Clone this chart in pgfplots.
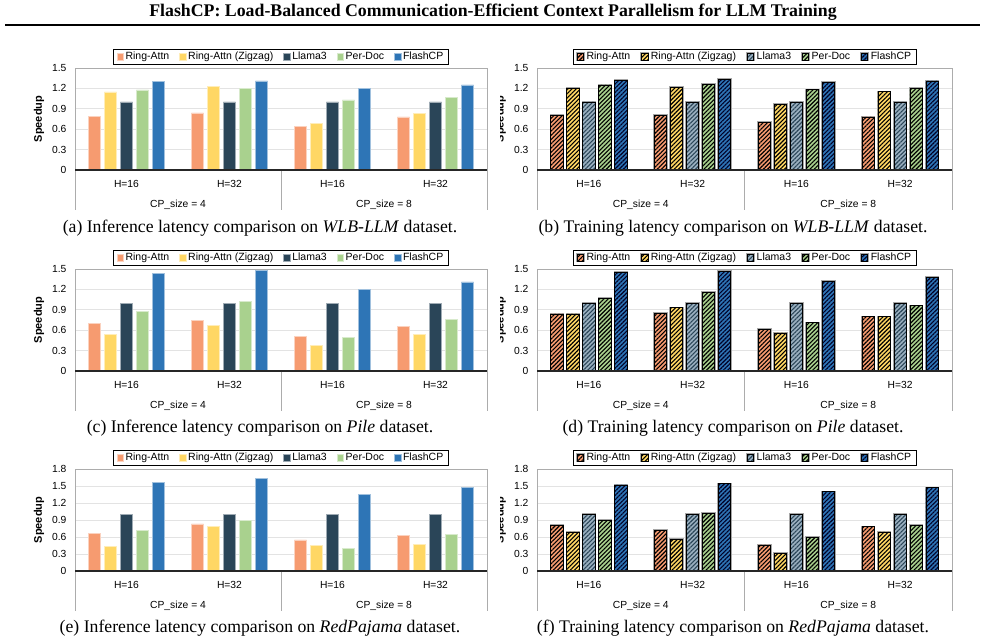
\documentclass[border=0pt]{standalone}
\usepackage{fontspec}
\setmainfont{Liberation Serif}
\newfontfamily\arial{Liberation Sans}
\usepackage{pgfplots}
\pgfplotsset{compat=1.18}
\usepackage{pgfplotstable}
\usetikzlibrary{patterns.meta}

\definecolor{cRing}{RGB}{246,155,112}
\definecolor{cZig}{RGB}{255,215,100}
\definecolor{cLlama}{RGB}{42,69,88}
\definecolor{cLlamaT}{RGB}{155,176,192}
\definecolor{cDoc}{RGB}{169,209,142}
\definecolor{cFlash}{RGB}{46,117,182}

% columns: group, Ring-Attn, Ring-Attn (Zigzag), Llama3, Per-Doc, FlashCP
\pgfplotstableread{
g ring zig llama doc flash
0 0.79 1.15 1.00 1.18 1.30
1 0.84 1.23 1.00 1.20 1.31
2 0.64 0.69 1.00 1.03 1.20
3 0.78 0.83 1.00 1.07 1.25
}\infWLB
\pgfplotstableread{
g ring zig llama doc flash
0 0.80 1.20 1.00 1.25 1.32
1 0.80 1.22 1.00 1.26 1.33
2 0.70 0.97 1.00 1.18 1.29
3 0.78 1.15 1.00 1.20 1.31
}\trnWLB
\pgfplotstableread{
g ring zig llama doc flash
0 0.70 0.54 1.00 0.88 1.44
1 0.74 0.67 1.00 1.02 1.48
2 0.51 0.38 1.00 0.50 1.20
3 0.66 0.54 1.00 0.76 1.31
}\infPile
\pgfplotstableread{
g ring zig llama doc flash
0 0.84 0.84 1.00 1.07 1.45
1 0.85 0.93 1.00 1.16 1.47
2 0.61 0.56 1.00 0.71 1.32
3 0.80 0.80 1.00 0.96 1.38
}\trnPile
\pgfplotstableread{
g ring zig llama doc flash
0 0.66 0.43 1.00 0.72 1.57
1 0.83 0.79 1.00 0.90 1.64
2 0.55 0.45 1.00 0.40 1.35
3 0.63 0.47 1.00 0.65 1.48
}\infRP
\pgfplotstableread{
g ring zig llama doc flash
0 0.81 0.69 1.00 0.90 1.52
1 0.72 0.56 1.00 1.02 1.54
2 0.46 0.31 1.00 0.59 1.40
3 0.78 0.69 1.00 0.81 1.47
}\trnRP

\pgfplotsset{
  panel/.style={
    scale only axis, height=102pt,
    ybar=3.7pt, bar width=12.3pt,
    xmin=-0.5, xmax=3.5, ymin=0,
    axis line style={gray!65, line width=0.6pt},
    ymajorgrids, grid style={gray!22, line width=0.8pt},
    ytick style={draw=none}, xtick style={draw=none},
    /pgf/number format/assume math mode=true,
    /pgf/number format/fixed, /pgf/number format/precision=1,
    tick label style={font=\arial\fontsize{10.3}{12}\selectfont},
    yticklabel style={xshift=-5pt},
    xtick={0,1,2,3}, xticklabels={H=16,H=32,H=16,H=32},
    xticklabel style={yshift=-3pt},
    extra x ticks={0.5,2.5},
    extra x tick labels={CP\_size = 4, CP\_size = 8},
    extra x tick style={xtick style={draw=none}, xticklabel style={yshift=-19pt}},
    ylabel={Speedup},
    every axis y label/.style={at={(axis description cs:-0.0874,0.5)},
      rotate=90, anchor=center, font=\arial\bfseries\fontsize{11}{13}\selectfont},
    clip=false,
    legend columns=5,
    legend style={at={(axis description cs:0.5,1)}, anchor=south, yshift=3.5pt,
      draw=black, line width=0.6pt, inner xsep=3pt, inner ysep=1pt,
      font=\arial\fontsize{10.5}{12}\selectfont,
      /tikz/every even column/.append style={column sep=8pt},
      nodes={inner xsep=2pt, inner ysep=2pt}},
    legend image code/.code={\path[##1, line width=0.5pt] (0pt,-3.2pt) rectangle (6.4pt,3.2pt);},
  },
  r15/.style={ymax=1.5, ytick={0,0.3,0.6,0.9,1.2,1.5}},
  r18/.style={ymax=1.8, ytick={0,0.3,0.6,0.9,1.2,1.5,1.8}},
  inf/.style={draw=white!55!#1, line width=0.5pt, fill=#1},
  trn/.style 2 args={fill=#1, draw=black, line width=0.7pt,
    preaction={draw=gray!70, line width=2.2pt},
    postaction={pattern={Lines[angle=45,distance=3pt,line width=1.1pt]}, pattern color=#2}},
}

% group separators below the plot area and the heavy zero line
\newcommand{\categoryframe}{%
  \draw[gray!65, line width=0.6pt] (axis cs:-0.5,0) -- ([yshift=-40pt]axis cs:-0.5,0);
  \draw[gray!65, line width=0.6pt] (axis cs:1.5,0) -- ([yshift=-40pt]axis cs:1.5,0);
  \draw[gray!65, line width=0.6pt] (axis cs:3.5,0) -- ([yshift=-40pt]axis cs:3.5,0);
  \draw[black!85, line width=1.3pt] (axis cs:-0.5,0) -- (axis cs:3.5,0);
}
\newcommand{\infbars}[1]{%
  \addplot[inf=cRing]   table[x=g,y=ring]{#1};
  \addplot[inf=cZig]    table[x=g,y=zig]{#1};
  \addplot[inf=cLlama]  table[x=g,y=llama]{#1};
  \addplot[inf=cDoc]    table[x=g,y=doc]{#1};
  \addplot[inf=cFlash]  table[x=g,y=flash]{#1};
  \legend{Ring-Attn, Ring-Attn (Zigzag), Llama3, Per-Doc, FlashCP}
  \categoryframe
}
\newcommand{\trnbars}[1]{%
  \addplot[trn={cRing}{black}]    table[x=g,y=ring]{#1};
  \addplot[trn={cZig}{black}]     table[x=g,y=zig]{#1};
  \addplot[trn={cLlamaT}{cLlama}] table[x=g,y=llama]{#1};
  \addplot[trn={cDoc}{black}]     table[x=g,y=doc]{#1};
  \addplot[trn={cFlash}{black!85!blue}] table[x=g,y=flash]{#1};
  \legend{Ring-Attn, Ring-Attn (Zigzag), Llama3, Per-Doc, FlashCP}
  \categoryframe
}

\begin{document}
\begin{tikzpicture}
\path[use as bounding box] (0pt,0pt) rectangle (985pt,-644pt);
\node[font=\bfseries\fontsize{17.8}{20}\selectfont] at (493pt,-12pt)
  {FlashCP: Load-Balanced Communication-Efficient Context Parallelism for LLM Training};
\draw[line width=1.6pt] (5pt,-25pt) -- (980pt,-25pt);

% left column: inference
\begin{axis}[panel, r15, width=412pt, at={(75pt,-170pt)}, anchor=south west]
\infbars{\infWLB}
\end{axis}
\begin{axis}[panel, r15, width=412pt, at={(75pt,-371pt)}, anchor=south west]
\infbars{\infPile}
\end{axis}
\begin{axis}[panel, r18, width=412pt, at={(75pt,-571pt)}, anchor=south west]
\infbars{\infRP}
\end{axis}

% right column: training
\begin{scope}
\clip (500pt,0pt) rectangle (985pt,-644pt);
\begin{axis}[panel, r15, width=415pt, at={(537pt,-170pt)}, anchor=south west]
\trnbars{\trnWLB}
\end{axis}
\begin{axis}[panel, r15, width=415pt, at={(537pt,-371pt)}, anchor=south west]
\trnbars{\trnPile}
\end{axis}
\begin{axis}[panel, r18, width=415pt, at={(537pt,-571pt)}, anchor=south west]
\trnbars{\trnRP}
\end{axis}
\end{scope}

\begin{scope}[font=\fontsize{17.7}{20}\selectfont]
\node at (260pt,-228pt) {(a) Inference latency comparison on \textit{WLB-LLM} dataset.};
\node at (733pt,-228pt) {(b) Training latency comparison on \textit{WLB-LLM} dataset.};
\node at (260pt,-428pt) {(c) Inference latency comparison on \textit{Pile} dataset.};
\node at (733pt,-428pt) {(d) Training latency comparison on \textit{Pile} dataset.};
\node at (260pt,-628pt) {(e) Inference latency comparison on \textit{RedPajama} dataset.};
\node at (733pt,-628pt) {(f) Training latency comparison on \textit{RedPajama} dataset.};
\end{scope}
\end{tikzpicture}
\end{document}
